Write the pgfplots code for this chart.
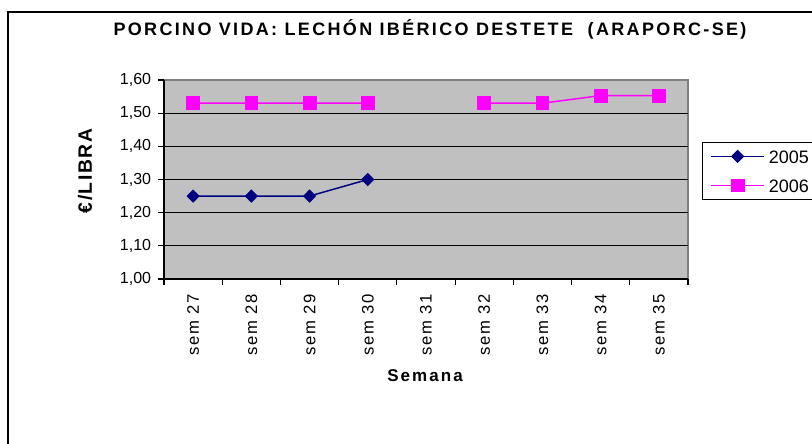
\documentclass[border=0pt]{standalone}
\usepackage{fontspec}
\setmainfont{Liberation Sans}
\usepackage{pgfplots}
\pgfplotsset{compat=1.18}
\definecolor{navyc}{HTML}{000080}
\definecolor{magc}{HTML}{FF00FF}
\definecolor{plotbg}{HTML}{C0C0C0}
\definecolor{plotbd}{HTML}{808080}
\begin{document}
\begin{tikzpicture}[x=0.75pt,y=0.75pt]
\useasboundingbox (0,0) rectangle (812,443);
% outer chart border (left and top visible)
\draw[line width=1pt, black] (8,-10) -- (8,431) -- (830,431);
\begin{axis}[
  at={(123pt,123pt)}, anchor=south west,
  scale only axis, width=393pt, height=149.25pt,
  xmin=-0.5, xmax=8.5, ymin=1.0, ymax=1.6,
  axis background/.style={fill=plotbg, draw=plotbd, line width=0.8pt},
  axis x line*=bottom, axis y line*=left,
  axis line style={black, line width=0.8pt, -},
  xtick={0,...,8},
  xticklabels={sem 27,sem 28,sem 29,sem 30,sem 31,sem 32,sem 33,sem 34,sem 35},
  major x tick style={draw=none},
  minor xtick={-0.5,0.5,...,8.5},
  minor x tick style={black, line width=0.8pt},
  minor tick length=4.5pt,
  tick align=outside,
  xticklabel style={rotate=90, anchor=east, inner sep=0pt, font=\fontsize{12.5}{14}\selectfont\addfontfeature{LetterSpace=9}},
  xticklabel shift=7pt,
  ytick={1.0,1.1,1.2,1.3,1.4,1.5},
  extra y ticks={1.6},
  extra y tick style={grid=none},
  ymajorgrids, grid style={black, line width=0.8pt},
  major y tick style={black, line width=0.8pt},
  major tick length=4.5pt,
  yticklabel style={anchor=east, inner sep=0pt, font=\fontsize{12}{14}\selectfont,
    /pgf/number format/.cd, fixed, fixed zerofill, precision=2, use comma, assume math mode=true},
  yticklabel shift=5pt,
  scaled y ticks=false,
  unbounded coords=jump,
  clip=false,
  legend style={at={(axis description cs:1.0267,0.6884)}, anchor=north west,
    draw=black, fill=white, line width=0.6pt,
    font=\fontsize{13.5}{15}\selectfont,
    inner xsep=6pt, inner ysep=5.5pt, row sep=11.75pt,
    nodes={inner sep=0pt, text height=10pt, text depth=0pt},
    column sep=3pt},
  legend cell align=left,
  legend image code/.code={\draw[mark repeat=2,mark phase=2,#1] plot coordinates {(0pt,0pt) (19.875pt,0pt) (39.75pt,0pt)};},
]
\addplot[navyc, line width=1.1pt, mark=diamond*, mark size=4.6pt, mark options={xscale=1.3, solid, fill=navyc, draw=navyc, line width=0.6pt}]
  coordinates {(0,1.25) (1,1.25) (2,1.25) (3,1.30)};
\addlegendentry{2005}
\addplot[magc, line width=1.1pt, mark=square*, mark size=4.8pt, mark options={solid, fill=magc, draw=magc, line width=0.6pt}]
  coordinates {(0,1.53) (1,1.53) (2,1.53) (3,1.53) (4,nan) (5,1.53) (6,1.53) (7,1.553) (8,1.553)};
\addlegendentry{2006}
\end{axis}
\node[anchor=base, font=\fontsize{13.5}{15}\selectfont\bfseries\addfontfeature{LetterSpace=13}] at (430,407) {PORCINO VIDA: LECHÓN IBÉRICO DESTETE \ (ARAPORC-SE)};
\node[rotate=90, anchor=center, inner sep=0pt, font=\fontsize{14.5}{16}\selectfont\bfseries\addfontfeature{LetterSpace=8}] at (85,272) {€/LIBRA};
\node[anchor=center, inner sep=0pt, font=\fontsize{12.75}{15}\selectfont\bfseries\addfontfeature{LetterSpace=12}] at (425,67) {Semana};
\end{tikzpicture}
\end{document}
